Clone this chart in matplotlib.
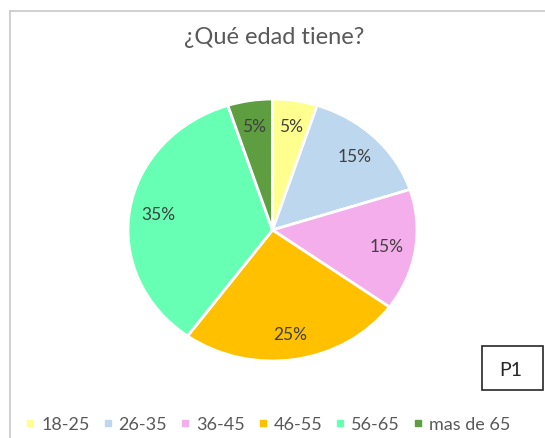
import matplotlib.pyplot as plt
from matplotlib.lines import Line2D
from matplotlib.patches import Rectangle

plt.rcParams['font.family'] = ['Lato', 'DejaVu Sans']

categories = ['18-25', '26-35', '36-45', '46-55', '56-65', 'mas de 65']
values = [5, 15, 15, 25, 35, 5]
colors = ['#FFFF8F', '#BDD7EE', '#F4AEEB', '#FFC000', '#66FFB3', '#5E9E40']
title = '¿Qué edad tiene?'

fig = plt.figure(figsize=(5.45, 4.39), dpi=100)

# outer frame (top and left edges only visible)
fig.add_artist(Line2D([10/545, 10/545], [0, 1 - 12/439], transform=fig.transFigure,
                      color='#C8C8C8', lw=1.2))
fig.add_artist(Line2D([10/545, 1], [1 - 12/439, 1 - 12/439], transform=fig.transFigure,
                      color='#C8C8C8', lw=1.2))

fig.text(274/545, 1 - 38/439, title, ha='center', va='center', fontsize=17, color='#595959')

ax = fig.add_axes([128/545, 1 - 362/439, 289/545, 262/439])
wedges, texts, autotexts = ax.pie(values, colors=colors, startangle=90, counterclock=False,
                                  autopct='%1.0f%%', pctdistance=0.8,
                                  wedgeprops=dict(edgecolor='white', linewidth=2),
                                  textprops=dict(fontsize=12.5, color='#404040'))
ax.set_aspect('auto')
ax.set_xlim(-1.0, 1.0)
ax.set_ylim(-1.0, 1.0)
ax.axis('off')

# P1 box
fig.add_artist(Rectangle((482/545, 1 - 391/439), 61/545, 44/439, transform=fig.transFigure,
                         fill=False, edgecolor='#262626', lw=1.2))
fig.text(511/545, 1 - 370/439, 'P1', ha='center', va='center', fontsize=14, color='#262626')

handles = [Line2D([], [], marker='s', ls='', markersize=5, color=c) for c in colors]
fig.legend(handles, categories, loc='center', bbox_to_anchor=(268/545, 1 - 425/439), ncol=6,
           frameon=False, fontsize=13, handlelength=0.5, handletextpad=0.35,
           columnspacing=0.75, labelcolor='#595959')

fig.savefig('out.png', dpi=100)
